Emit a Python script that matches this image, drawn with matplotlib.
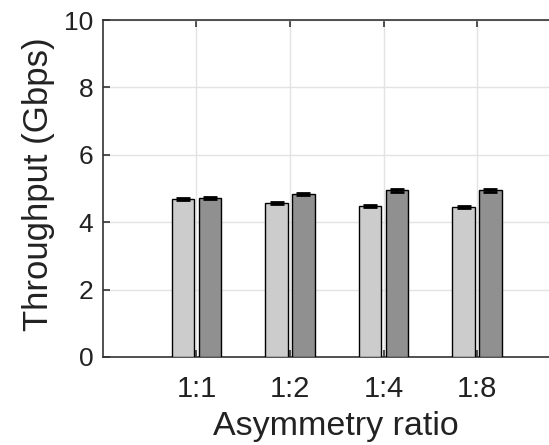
import numpy as np
import matplotlib.pyplot as plt

# data
ratios = ['1:1', '1:2', '1:4', '1:8']
light_vals = [4.70, 4.57, 4.48, 4.44]
dark_vals = [4.72, 4.84, 4.95, 4.95]
light_err = [0.03, 0.03, 0.03, 0.03]
dark_err = [0.04, 0.04, 0.04, 0.04]

plt.rcParams['font.family'] = ['Liberation Sans', 'DejaVu Sans']

fig = plt.figure(figsize=(5.49, 4.45), dpi=100)
ax = fig.add_axes([0.1876, 0.1978, 0.8124, 0.7572])

x = np.arange(1, len(ratios) + 1)
off = 0.144
w = 0.24

ax.bar(x - off, light_vals, w, color='#cccccc', edgecolor='black', linewidth=1.0, zorder=3)
ax.bar(x + off, dark_vals, w, color='#909090', edgecolor='black', linewidth=1.0, zorder=3)
ax.errorbar(x - off, light_vals, yerr=light_err, fmt='none', ecolor='black',
            elinewidth=1.5, capsize=5, capthick=2, zorder=4)
ax.errorbar(x + off, dark_vals, yerr=dark_err, fmt='none', ecolor='black',
            elinewidth=1.5, capsize=5, capthick=2, zorder=4)

ax.set_xlim(0, 4.77)
ax.set_ylim(0, 10)
ax.set_xticks(x)
ax.set_xticklabels(ratios)
ax.set_yticks([0, 2, 4, 6, 8, 10])

ax.grid(True, color='#e3e3e3', linewidth=1.0, zorder=0)
ax.set_axisbelow(True)

for s in ['left', 'top', 'bottom']:
    ax.spines[s].set_color('#333333')
    ax.spines[s].set_linewidth(1.2)
ax.spines['right'].set_visible(False)

ax.tick_params(direction='in', length=5, width=1.2, color='#333333',
               top=True, right=False, labelsize=19, pad=7, labelcolor='#222222')
ax.tick_params(axis='x', labelsize=21, pad=13)

ax.set_ylabel('Throughput (Gbps)', fontsize=25, color='#222222')
ax.set_xlabel('Asymmetry ratio', fontsize=24.5, color='#222222')
# the original axes run past the right edge of the crop
ax.xaxis.set_label_coords(0.522, -0.16)
ax.yaxis.set_label_coords(-0.108, 0.512)

fig.savefig('out.png', dpi=100)
